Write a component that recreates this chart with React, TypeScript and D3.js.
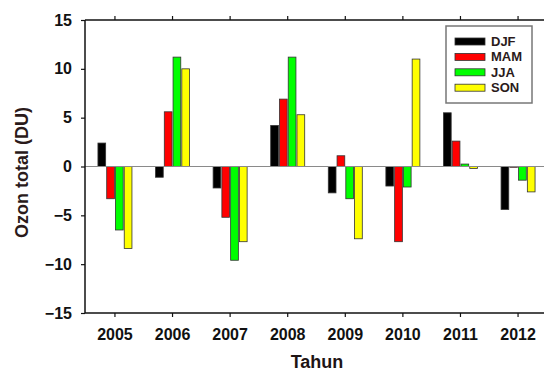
import React, { useRef, useEffect } from "react";
import * as d3 from "d3";

const years = ["2005", "2006", "2007", "2008", "2009", "2010", "2011", "2012"];
const seasons = ["DJF", "MAM", "JJA", "SON"];
const seasonColors = ["#000000", "#ff0000", "#00ff00", "#ffff00"];
const djf = [2.4, -1.1, -2.2, 4.2, -2.7, -2.0, 5.5, -4.4];
const mam = [-3.3, 5.6, -5.2, 6.9, 1.1, -7.7, 2.6, -0.05];
const jja = [-6.5, 11.2, -9.6, 11.2, -3.3, -2.1, 0.25, -1.4];
const son = [-8.4, 10.0, -7.7, 5.3, -7.4, 11.0, -0.2, -2.6];
const yTicks = [-15, -10, -5, 0, 5, 10, 15];

const W = 544;
const H = 374;

const App = () => {
  const ref = useRef<SVGSVGElement>(null);

  useEffect(() => {
    const svg = d3.select(ref.current);
    svg.selectAll("*").remove();

    const left = 85;
    const top = 20;
    const bottom = 313;
    const right = 548;
    const font = "'Liberation Sans', Arial, sans-serif";

    const series = [djf, mam, jja, son];

    const x = d3
      .scaleBand()
      .domain(years)
      .range([left, right])
      .paddingInner(0)
      .paddingOuter(0.02);
    const xs = d3
      .scaleBand()
      .domain(seasons)
      .range([-17, 17])
      .paddingInner(0.12);
    const y = d3.scaleLinear().domain([-15, 15]).range([bottom, top]);

    // bars
    const groups = svg
      .append("g")
      .selectAll("g")
      .data(years)
      .enter()
      .append("g")
      .attr("transform", (d) => `translate(${x(d)! + x.bandwidth() / 2},0)`);

    groups
      .selectAll("rect")
      .data((d, i) => seasons.map((s, k) => ({ s, k, v: series[k][i] })))
      .enter()
      .append("rect")
      .attr("x", (d) => xs(d.s)!)
      .attr("width", xs.bandwidth())
      .attr("y", (d) => y(Math.max(0, d.v)))
      .attr("height", (d) => Math.max(0.8, Math.abs(y(d.v) - y(0))))
      .attr("fill", (d) => seasonColors[d.k])
      .attr("stroke", "#333")
      .attr("stroke-width", 0.8);

    // zero line
    svg
      .append("line")
      .attr("x1", left)
      .attr("x2", W)
      .attr("y1", y(0))
      .attr("y2", y(0))
      .attr("stroke", "#8a8a8a")
      .attr("stroke-width", 1.2);

    // frame
    const frame = svg.append("g").attr("stroke", "#111").attr("stroke-width", 1.5);
    frame.append("line").attr("x1", left).attr("x2", left).attr("y1", top).attr("y2", bottom);
    frame.append("line").attr("x1", left).attr("x2", W).attr("y1", top).attr("y2", top);
    frame.append("line").attr("x1", left).attr("x2", W).attr("y1", bottom).attr("y2", bottom);

    // y axis
    const yAxis = svg
      .append("g")
      .attr("transform", `translate(${left},0)`)
      .call(d3.axisLeft(y).tickValues(yTicks).tickSize(4).tickPadding(9));
    yAxis.select(".domain").remove();
    yAxis.selectAll("line").attr("stroke", "#111").attr("stroke-width", 1.2);
    yAxis
      .selectAll("text")
      .attr("font-family", font)
      .attr("font-weight", "bold")
      .attr("font-size", 16)
      .attr("fill", "#111");

    // x axis
    const xAxis = svg
      .append("g")
      .attr("transform", `translate(0,${bottom})`)
      .call(d3.axisBottom(x).tickSize(4).tickPadding(12));
    xAxis.select(".domain").remove();
    xAxis.selectAll("line").attr("stroke", "#111").attr("stroke-width", 1.2);
    xAxis
      .selectAll("text")
      .attr("font-family", font)
      .attr("font-weight", "bold")
      .attr("font-size", 16)
      .attr("fill", "#111");

    // top ticks
    const topAxis = svg
      .append("g")
      .attr("transform", `translate(0,${top})`)
      .call(d3.axisTop(x).tickSize(4).tickFormat(() => ""));
    topAxis.select(".domain").remove();
    topAxis.selectAll("line").attr("stroke", "#111").attr("stroke-width", 1.2);

    // axis titles
    svg
      .append("text")
      .attr("x", 317)
      .attr("y", 368)
      .attr("text-anchor", "middle")
      .attr("font-family", font)
      .attr("font-weight", "bold")
      .attr("font-size", 18)
      .attr("fill", "#1e1414")
      .text("Tahun");
    svg
      .append("text")
      .attr("transform", `translate(28,${(top + bottom) / 2 + 6}) rotate(-90)`)
      .attr("text-anchor", "middle")
      .attr("font-family", font)
      .attr("font-weight", "bold")
      .attr("font-size", 18)
      .attr("fill", "#2a1a1a")
      .text("Ozon total (DU)");

    // legend
    const lg = svg.append("g");
    lg.append("rect")
      .attr("x", 446)
      .attr("y", 26)
      .attr("width", 86)
      .attr("height", 77)
      .attr("fill", "#fff")
      .attr("stroke", "#777")
      .attr("stroke-width", 1.5);
    seasons.forEach((s, k) => {
      const cy = 41.5 + k * 15.4;
      lg.append("rect")
        .attr("x", 455)
        .attr("y", cy - 3.5)
        .attr("width", 30)
        .attr("height", 7)
        .attr("fill", seasonColors[k])
        .attr("stroke", "#333")
        .attr("stroke-width", 0.8);
      lg.append("text")
        .attr("x", 491)
        .attr("y", cy + 4.5)
        .attr("font-family", font)
        .attr("font-weight", "bold")
        .attr("font-size", 13)
        .attr("fill", "#2a1a1a")
        .text(s);
    });
  }, []);

  return (
    <svg
      ref={ref}
      width={W}
      height={H}
      style={{ position: "absolute", left: 0, top: 0, display: "block", background: "#fff" }}
    />
  );
};

export default App;
